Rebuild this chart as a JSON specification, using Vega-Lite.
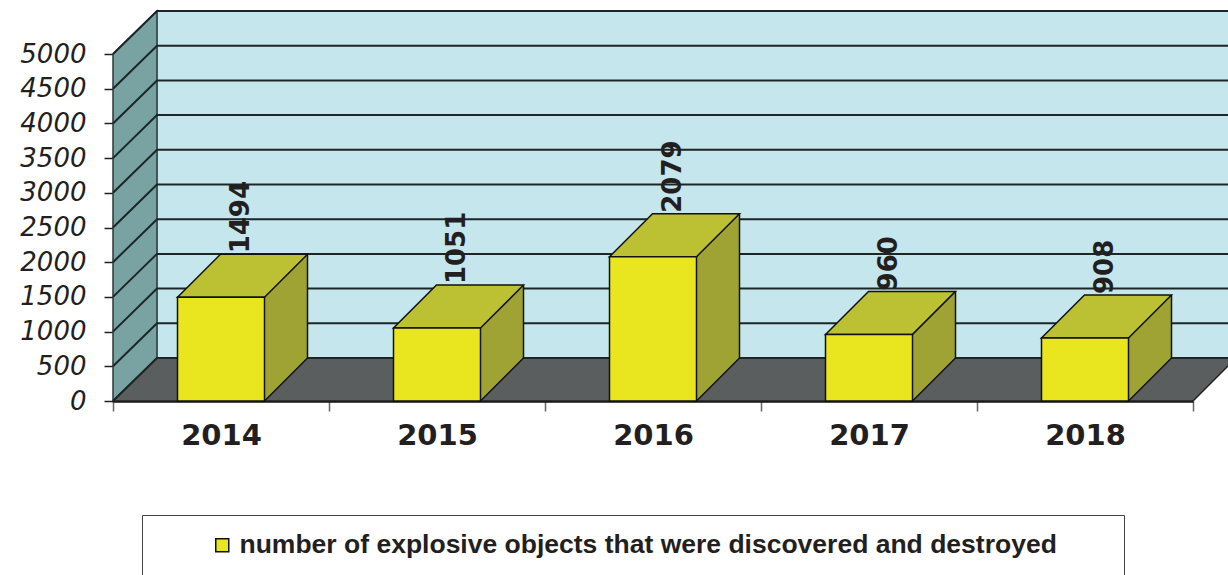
{
  "$schema": "https://vega.github.io/schema/vega-lite/v6.json",
  "width": 1080,
  "height": 390,
  "autosize": {"type": "none"},
  "padding": {"left": 113, "top": 11, "right": 35, "bottom": 174},
  "background": "white",
  "datasets": {
    "bars": [
      {"year": "2014", "value": 1494},
      {"year": "2015", "value": 1051},
      {"year": "2016", "value": 2079},
      {"year": "2017", "value": 960},
      {"year": "2018", "value": 908}
    ],
    "ticks": [
      {"t": 0}, {"t": 500}, {"t": 1000}, {"t": 1500}, {"t": 2000}, {"t": 2500},
      {"t": 3000}, {"t": 3500}, {"t": 4000}, {"t": 4500}, {"t": 5000}
    ]
  },
  "config": {
    "view": {"stroke": null},
    "axisX": {"tickBand": "extent", "domainColor": "#111111", "domainWidth": 2.5, "tickColor": "#666666", "tickWidth": 1.5, "tickSize": 10, "labelFont": "DejaVu Sans", "labelFontWeight": "bold", "labelFontSize": 29, "labelColor": "#231f20", "labelPadding": 10, "labelAngle": 0, "zindex": 1, "grid": false},
    "axisY": {"domain": false, "grid": false, "tickColor": "#222222", "tickWidth": 1.5, "tickSize": 9, "labelFont": "DejaVu Sans", "labelFontStyle": "italic", "labelFontSize": 26, "labelColor": "#231f20", "labelPadding": 18, "labelOverlap": false, "labelSeparation": 0, "format": "d", "zindex": 1}
  },
  "layer": [
    {
      "data": {"name": "bars"},
      "transform": [{"aggregate": [{"op": "count", "as": "n"}]}],
      "mark": {"type": "point", "shape": "M-64,-43 L-64,-390 L1020,-390 L1020,-43 Z", "size": 4, "filled": true, "fill": "#c4e6ec", "stroke": "#8c9ea0", "strokeWidth": 1.5, "opacity": 1},
      "encoding": {
        "x": {"datum": "2014", "type": "ordinal", "title": null, "scale": {"type": "band", "paddingInner": 0, "paddingOuter": 0, "domain": ["2014", "2015", "2016", "2017", "2018"]}},
        "y": {"datum": 0, "type": "quantitative", "title": null, "scale": {"domain": [0, 5620], "nice": false}, "axis": {"values": [0, 500, 1000, 1500, 2000, 2500, 3000, 3500, 4000, 4500, 5000]}}
      }
    },
    {
      "data": {"name": "bars"},
      "transform": [{"aggregate": [{"op": "count", "as": "n"}]}],
      "mark": {"type": "point", "shape": "M-108,0 L-108,-347 L-64,-390 L-64,-43 Z", "size": 4, "filled": true, "fill": "#79a2a2", "stroke": "#2a3a3a", "strokeWidth": 1.5, "opacity": 1},
      "encoding": {
        "x": {"datum": "2014", "type": "ordinal", "title": null},
        "y": {"datum": 0, "type": "quantitative", "title": null, "axis": {"values": [0, 500, 1000, 1500, 2000, 2500, 3000, 3500, 4000, 4500, 5000]}}
      }
    },
    {
      "data": {"name": "bars"},
      "transform": [{"aggregate": [{"op": "count", "as": "n"}]}],
      "mark": {"type": "point", "shape": "M-108,0 L-64,-43 L1015,-43 L972,0 Z", "size": 4, "filled": true, "fill": "#5a5e5f", "stroke": "#222222", "strokeWidth": 1.5, "opacity": 1},
      "encoding": {
        "x": {"datum": "2014", "type": "ordinal", "title": null},
        "y": {"datum": 0, "type": "quantitative", "title": null, "axis": {"values": [0, 500, 1000, 1500, 2000, 2500, 3000, 3500, 4000, 4500, 5000]}}
      }
    },
    {
      "data": {"name": "ticks"},
      "mark": {"type": "point", "shape": "M-108,0 L-64,-43 L1020,-43", "size": 4, "filled": false, "fill": "transparent", "stroke": "#1c2626", "strokeWidth": 2, "opacity": 1},
      "encoding": {
        "x": {"datum": "2014", "type": "ordinal", "title": null},
        "y": {"field": "t", "type": "quantitative", "title": null, "axis": {"values": [0, 500, 1000, 1500, 2000, 2500, 3000, 3500, 4000, 4500, 5000]}}
      }
    },
    {
      "data": {"name": "bars"},
      "mark": {"type": "bar", "width": 43, "xOffset": 65, "yOffset": -43, "y2Offset": -43, "fill": "#9ea334", "strokeWidth": 0},
      "encoding": {
        "x": {"field": "year", "type": "ordinal", "title": null},
        "y": {"field": "value", "type": "quantitative", "title": null, "axis": {"values": [0, 500, 1000, 1500, 2000, 2500, 3000, 3500, 4000, 4500, 5000]}},
        "y2": {"datum": 0}
      }
    },
    {
      "data": {"name": "bars"},
      "mark": {"type": "point", "shape": "M43.5,0 L43.5,-43 L86.5,-43 Z", "size": 4, "filled": true, "fill": "#9ea334", "strokeWidth": 0, "opacity": 1},
      "encoding": {
        "x": {"field": "year", "type": "ordinal", "title": null},
        "y": {"datum": 0, "type": "quantitative", "title": null, "axis": {"values": [0, 500, 1000, 1500, 2000, 2500, 3000, 3500, 4000, 4500, 5000]}}
      }
    },
    {
      "data": {"name": "bars"},
      "mark": {"type": "point", "shape": "M43.5,0 L86.5,-43", "size": 4, "filled": false, "fill": "transparent", "stroke": "#111111", "strokeWidth": 1.5, "opacity": 1},
      "encoding": {
        "x": {"field": "year", "type": "ordinal", "title": null},
        "y": {"datum": 0, "type": "quantitative", "title": null, "axis": {"values": [0, 500, 1000, 1500, 2000, 2500, 3000, 3500, 4000, 4500, 5000]}}
      }
    },
    {
      "data": {"name": "bars"},
      "mark": {"type": "rule", "xOffset": 86.5, "yOffset": -43, "y2Offset": -43, "stroke": "#111111", "strokeWidth": 1.5},
      "encoding": {
        "x": {"field": "year", "type": "ordinal", "title": null},
        "y": {"field": "value", "type": "quantitative", "title": null, "axis": {"values": [0, 500, 1000, 1500, 2000, 2500, 3000, 3500, 4000, 4500, 5000]}},
        "y2": {"datum": 0}
      }
    },
    {
      "data": {"name": "bars"},
      "mark": {"type": "point", "shape": "M-43.5,0 L43.5,0 L86.5,-43 L-0.5,-43 Z", "size": 4, "filled": true, "fill": "#bcc033", "stroke": "#111111", "strokeWidth": 1.5, "opacity": 1},
      "encoding": {
        "x": {"field": "year", "type": "ordinal", "title": null},
        "y": {"field": "value", "type": "quantitative", "title": null, "axis": {"values": [0, 500, 1000, 1500, 2000, 2500, 3000, 3500, 4000, 4500, 5000]}}
      }
    },
    {
      "data": {"name": "bars"},
      "mark": {"type": "bar", "width": 87, "stroke": "#111111", "strokeWidth": 1.5},
      "encoding": {
        "x": {"field": "year", "type": "ordinal", "title": null},
        "y": {"field": "value", "type": "quantitative", "title": null, "axis": {"values": [0, 500, 1000, 1500, 2000, 2500, 3000, 3500, 4000, 4500, 5000]}},
        "y2": {"datum": 0},
        "fill": {
          "datum": "number of explosive objects that were discovered and destroyed",
          "type": "nominal",
          "scale": {"range": ["#e9e620"]},
          "legend": {"orient": "none", "legendX": 29, "legendY": 504, "direction": "horizontal", "title": " ", "titleOrient": "right", "titlePadding": 50, "padding": 17, "strokeColor": "#444444", "fillColor": "white", "symbolType": "square", "symbolSize": 169, "symbolStrokeColor": "#111111", "symbolStrokeWidth": 1.5, "symbolOffset": 50, "labelFont": "Liberation Sans", "labelFontWeight": "bold", "labelFontSize": 26.5, "labelColor": "#231f20", "labelOffset": 4, "labelLimit": 2000}
        }
      }
    },
    {
      "data": {"name": "bars"},
      "mark": {"type": "text", "angle": 270, "align": "left", "baseline": "middle", "font": "DejaVu Sans", "fontWeight": "bold", "fontSize": 26, "fill": "#231f20", "xOffset": 20, "yOffset": -44},
      "encoding": {
        "x": {"field": "year", "type": "ordinal", "title": null},
        "y": {"field": "value", "type": "quantitative", "title": null, "axis": {"values": [0, 500, 1000, 1500, 2000, 2500, 3000, 3500, 4000, 4500, 5000]}},
        "text": {"field": "value", "type": "quantitative"}
      }
    }
  ]
}
